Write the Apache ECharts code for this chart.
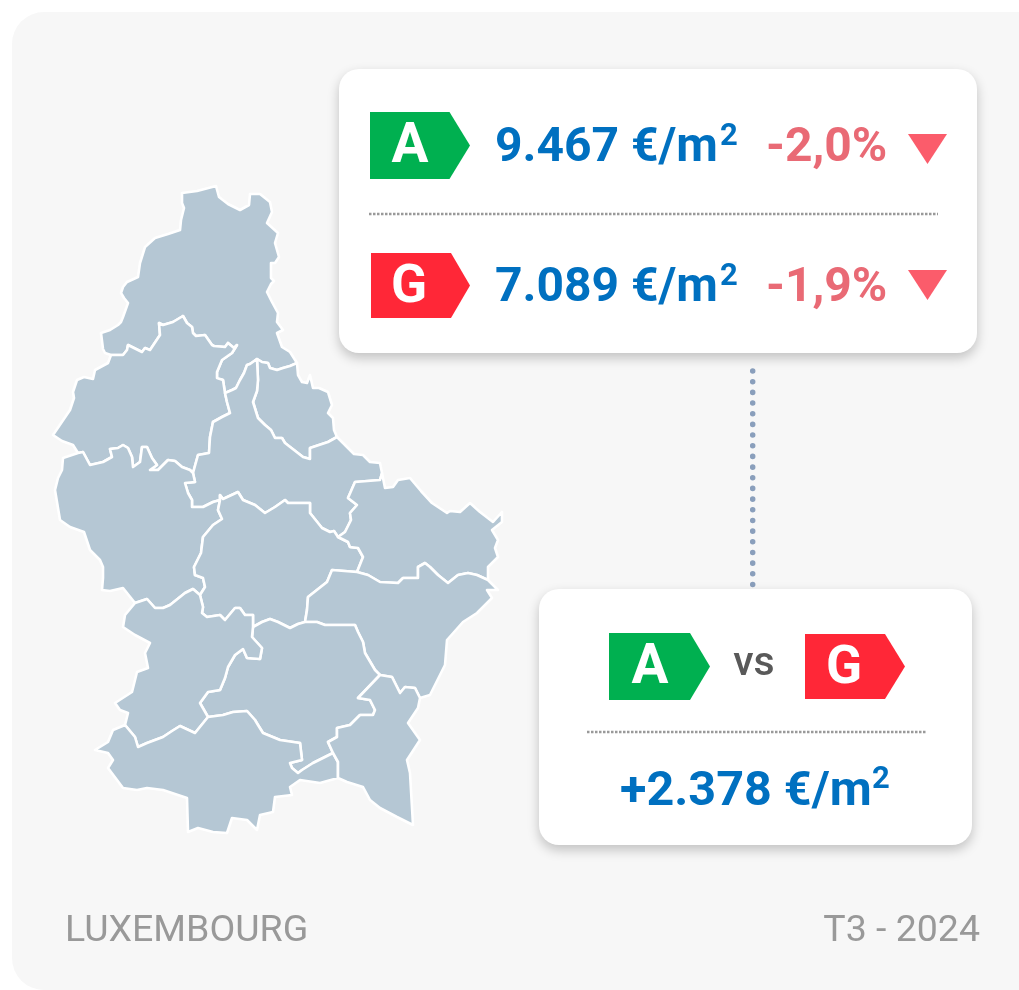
<!DOCTYPE html>
<html>
<head>
<meta charset="utf-8">
<title>LUXEMBOURG</title>
<script src="https://cdn.jsdelivr.net/npm/echarts@6/dist/echarts.min.js"></script>
<style>
html,body{margin:0;padding:0;background:#fff;}
#chart{width:1019px;height:990px;}
</style>
</head>
<body>
<div id="chart"></div>
<script>
// texts and values
var grades = ['A', 'G'];
var prices = ['9.467 €/m', '7.089 €/m'];
var changes = ['-2,0%', '-1,9%'];
var gapLabel = 'vs';
var gapValue = '+2.378 €/m';
var areaLabel = 'LUXEMBOURG';
var periodLabel = 'T3 - 2024';

// canton borders (shared between neighbours)
var clvOut = [[111,355],[105,353],[103,349],[101,333],[110,330],[118,325],[121,322],[123,317],[128,303],[124,298],[121,293],[123,287],[127,282],[138,277],[139,270],[140,263],[145,247],[155,238],[168,234],[180,230],[181,220],[184,208],[182,203],[182,193],[197,191],[216,186],[219,197],[228,204],[240,210],[249,205],[250,194],[260,194],[270,202],[272,212],[267,223],[278,233],[275,243],[279,257],[275,263],[271,263],[271,278],[274,281],[271,284],[267,292],[272,302],[278,313],[277,322],[283,330],[277,333],[282,347],[290,352],[297,363]];
var clvVia = [[297,363],[290,366],[283,368],[277,370],[270,368],[268,363],[262,362],[257,359]];
var clvDie = [[257,359],[250,364],[247,365],[244,373],[240,380],[236,388],[232,390],[225,393]];
var clvWil = [[225,393],[223,380],[217,378],[217,372],[222,360],[232,353],[237,345],[234,348],[228,343],[225,347],[214,346],[212,345],[205,335],[196,336],[193,333],[192,327],[187,323],[183,316],[173,322],[163,325],[159,323],[160,335],[150,350],[145,348],[142,352],[128,345],[127,350],[123,355],[111,355]];
var wilOut = [[111,355],[108,363],[95,370],[93,379],[84,377],[77,380],[73,392],[74,398],[70,410],[53,435],[62,441],[73,445],[78,453],[83,452]];
var wilRed = [[83,452],[90,465],[103,462],[112,457],[110,449],[118,448],[123,445],[128,448],[132,457],[133,467],[140,462],[142,447],[147,447],[152,458],[157,465],[150,470],[158,470],[168,460],[175,461],[182,467],[190,470],[193,473]];
var wilDie = [[193,473],[198,455],[209,453],[210,437],[213,422],[222,417],[230,413],[227,402],[225,393]];
var viaOut = [[297,363],[298,375],[302,382],[307,383],[310,375],[313,388],[319,388],[328,392],[332,405],[328,413],[333,418],[334,430],[337,437]];
var viaDie = [[337,437],[328,442],[310,448],[310,459],[303,457],[285,443],[282,438],[275,438],[271,430],[265,425],[258,418],[253,402],[257,391],[258,380],[257,359]];
var dieOut = [[337,437],[347,447],[354,454],[363,455],[370,462],[380,463],[382,473]];
var dieEch = [[382,473],[380,480],[355,482],[348,498],[357,505],[350,513],[351,520],[345,532],[338,537]];
var dieRed = [[193,473],[195,482],[185,483],[188,493],[192,500],[192,507],[203,507],[213,502],[220,500]];
var merDie = [[220,500],[220,495],[223,499],[238,492],[243,500],[255,505],[265,513],[275,507],[285,500],[288,503],[310,503],[310,513],[322,528],[330,532],[334,531],[338,537]];
var merRed = [[220,500],[218,510],[222,519],[213,525],[203,537],[201,553],[194,567],[195,575],[203,578],[205,587],[200,595]];
var redCap = [[200,595],[193,589],[185,593],[170,605],[163,608],[155,608],[147,599],[135,603]];
var redOut = [[135,603],[123,588],[110,591],[102,590],[103,578],[103,567],[100,560],[90,550],[84,532],[70,527],[60,520],[58,508],[55,490],[58,478],[62,470],[63,458],[78,453],[83,452]];
var merEch = [[338,537],[348,542],[350,547],[358,548],[363,557],[357,572]];
var merGre = [[357,572],[332,570],[327,582],[308,597],[307,610],[305,622]];
var merLux = [[305,622],[298,624],[290,628],[278,622],[270,619],[262,622],[253,627]];
var merCap = [[253,627],[253,615],[245,615],[240,608],[235,608],[225,620],[220,615],[207,617],[202,613],[203,607],[200,595]];
var echOut = [[382,473],[385,488],[393,487],[398,480],[410,478],[421,491],[432,503],[447,513],[450,511],[460,512],[470,503],[480,512],[493,522],[502,512],[502,522],[492,530],[498,540],[495,548],[498,557],[488,567],[488,580]];
var echGre = [[488,580],[477,575],[468,573],[458,575],[448,583],[438,575],[430,567],[425,563],[418,567],[418,578],[403,578],[398,583],[380,582],[368,575],[357,572]];
var greOut = [[488,580],[498,590],[487,590],[492,598],[477,613],[463,622],[447,640],[445,665],[430,695],[420,698]];
var greRem = [[420,698],[415,688],[405,687],[400,693],[392,677],[380,675]];
var luxGre = [[305,622],[317,622],[325,625],[333,625],[355,625],[358,632],[363,642],[365,653],[375,670],[380,675]];
var remLux = [[380,675],[358,698],[370,700],[375,710],[373,715],[360,715],[350,725],[337,728],[337,737],[328,742],[333,753]];
var luxEsch = [[333,753],[325,757],[313,763],[302,770],[298,773],[292,768],[290,763],[302,760],[300,743],[280,740],[263,733],[258,725],[255,720],[247,711],[233,712],[223,715],[208,717]];
var capLux = [[253,627],[252,637],[262,648],[260,659],[247,658],[243,649],[235,655],[228,667],[225,678],[220,690],[208,692],[200,703],[208,717]];
var capOut = [[135,603],[125,615],[123,627],[135,635],[150,643],[145,653],[148,668],[137,672],[132,692],[115,703],[120,710],[128,713],[125,725]];
var capEsch = [[125,725],[135,737],[138,747],[147,743],[163,737],[172,731],[180,726],[195,733],[208,717]];
var eschOut = [[125,725],[113,730],[108,742],[95,750],[108,753],[113,760],[108,768],[123,788],[137,790],[147,788],[163,790],[187,798],[188,832],[198,828],[213,832],[227,833],[232,818],[247,820],[257,830],[260,815],[273,812],[275,797],[292,795],[290,787],[300,780],[320,783],[338,778]];
var eschRem = [[333,753],[338,762],[338,778]];
var remOut = [[338,778],[347,782],[363,787],[370,800],[380,808],[397,817],[413,825],[410,773],[407,760],[420,740],[408,723],[418,708],[420,698]];

function rev(a){ return a.slice().reverse(); }
function ring(){
	var pts = [];
	for(var i=0;i<arguments.length;i++){
		pts = pts.concat(arguments[i].slice(0,-1));
	}
	pts.push(pts[0]);
	return pts;
}
var cantons = {
	'Clervaux': ring(clvOut,clvVia,clvDie,clvWil),
	'Wiltz': ring(wilOut,wilRed,wilDie,clvWil),
	'Vianden': ring(viaOut,viaDie,rev(clvVia)),
	'Diekirch': ring(rev(clvDie),rev(viaDie),dieOut,dieEch,rev(merDie),rev(dieRed),wilDie),
	'Redange': ring(wilRed,dieRed,merRed,redCap,redOut),
	'Mersch': ring(merDie,merEch,merGre,merLux,merCap,rev(merRed)),
	'Echternach': ring(echOut,echGre,rev(merEch),rev(dieEch)),
	'Grevenmacher': ring(rev(echGre),greOut,greRem,rev(luxGre),rev(merGre)),
	'Luxembourg': ring(luxGre,remLux,luxEsch,rev(capLux),rev(merLux)),
	'Capellen': ring(merCap,redCap,capOut,capEsch,rev(capLux)),
	'Esch-sur-Alzette': ring(capEsch,rev(luxEsch),eschRem,rev(eschOut)),
	'Remich': ring(eschRem,remOut,greRem,remLux)
};
var features = [];
var seriesData = [];
for(var name in cantons){
	features.push({type:'Feature',properties:{name:name},geometry:{type:'Polygon',coordinates:[cantons[name]]}});
	seriesData.push({name:name});
}
echarts.registerMap('lux',{type:'FeatureCollection',features:features});

var FONT = 'Roboto';
var BLUE = '#0070c0';
var PINK = '#e96a75';
var BADGE = {A:'#00b050',G:'#ff2737'};

// y is the text baseline
function txt(x,y,s,size,color,weight,align){
	return {type:'text',x:x,y:y+size*0.22,style:{text:s,fontFamily:FONT,fontSize:size,fontWeight:weight||'normal',fill:color,textAlign:align||'left',verticalAlign:'bottom'}};
}
function card(x,y,w,h){
	return {type:'rect',shape:{x:x,y:y,width:w,height:h,r:20},style:{fill:'#fff',shadowBlur:12,shadowOffsetY:5,shadowColor:'rgba(0,0,0,0.22)'}};
}
function badge(x0,x1,sh,y0,y1,grade,tx,ty,size){
	return [
		{type:'polygon',shape:{points:[[x0,y0],[sh,y0],[x1,(y0+y1)/2],[sh,y1],[x0,y1]]},style:{fill:BADGE[grade]}},
		txt(tx,ty,grade,size,'#fff','bold','center')
	];
}
function rule(x0,x1,y){
	return {type:'line',shape:{x1:x0,y1:y,x2:x1,y2:y},style:{stroke:'#999',lineWidth:2.5,lineDash:[2.5,1.5]}};
}
function arrow(y0){
	return {type:'polygon',shape:{points:[[908,y0],[947,y0],[927.5,y0+30]]},style:{fill:'#fb5c6b'}};
}

var els = [
	{type:'rect',shape:{x:12,y:12,width:1040,height:978,r:32},style:{fill:'#f7f7f7'}},
	{type:'line',shape:{x1:752.7,y1:371,x2:752.7,y2:586},style:{stroke:'#8a9fbc',lineWidth:5.5,lineCap:'round',lineDash:[0.1,10.57]}},
	card(339,69,638,284),
	card(539,589,433,256)
];
els = els.concat(
	badge(370,470,449.5,112,179,grades[0],410,164,55),
	badge(371,470,451,253,318,grades[1],409,304,53),
	badge(609,710,690,633,700,grades[0],650,685,55),
	badge(805,905,885,634,699,grades[1],844,685,53)
);
els.push(
	txt(495,162,prices[0],48,BLUE,'bold'),
	txt(720,146,'2',31,BLUE,'bold'),
	txt(495,302,prices[1],48,BLUE,'bold'),
	txt(720,286,'2',31,BLUE,'bold'),
	txt(766,162,changes[0],48,PINK,'bold'),
	txt(766,302,changes[1],48,PINK,'bold'),
	arrow(134),
	arrow(270),
	rule(369,938,214),
	rule(587,927,732),
	txt(754,676,gapLabel,41,'#595959','500','center'),
	txt(620,807,gapValue,48.5,BLUE,'bold'),
	txt(872,789,'2',31,BLUE,'bold'),
	txt(65,942,areaLabel,37.5,'#999'),
	txt(980,942,periodLabel,37.5,'#999','normal','right')
);

var myChart = echarts.init(document.getElementById('chart'),null,{renderer:'canvas'});
var option = {
	animation:false,
	graphic:{elements:els},
	series:[{
		type:'map',
		map:'lux',
		silent:true,
		left:53,
		top:186,
		width:449,
		height:647,
		projection:{
			project:function(p){ return p; },
			unproject:function(p){ return p; }
		},
		label:{show:false},
		itemStyle:{areaColor:'#b5c7d4',borderColor:'#fff',borderWidth:2.6,borderJoin:'round'},
		data:seriesData
	}]
};
myChart.setOption(option);
</script>
</body>
</html>
